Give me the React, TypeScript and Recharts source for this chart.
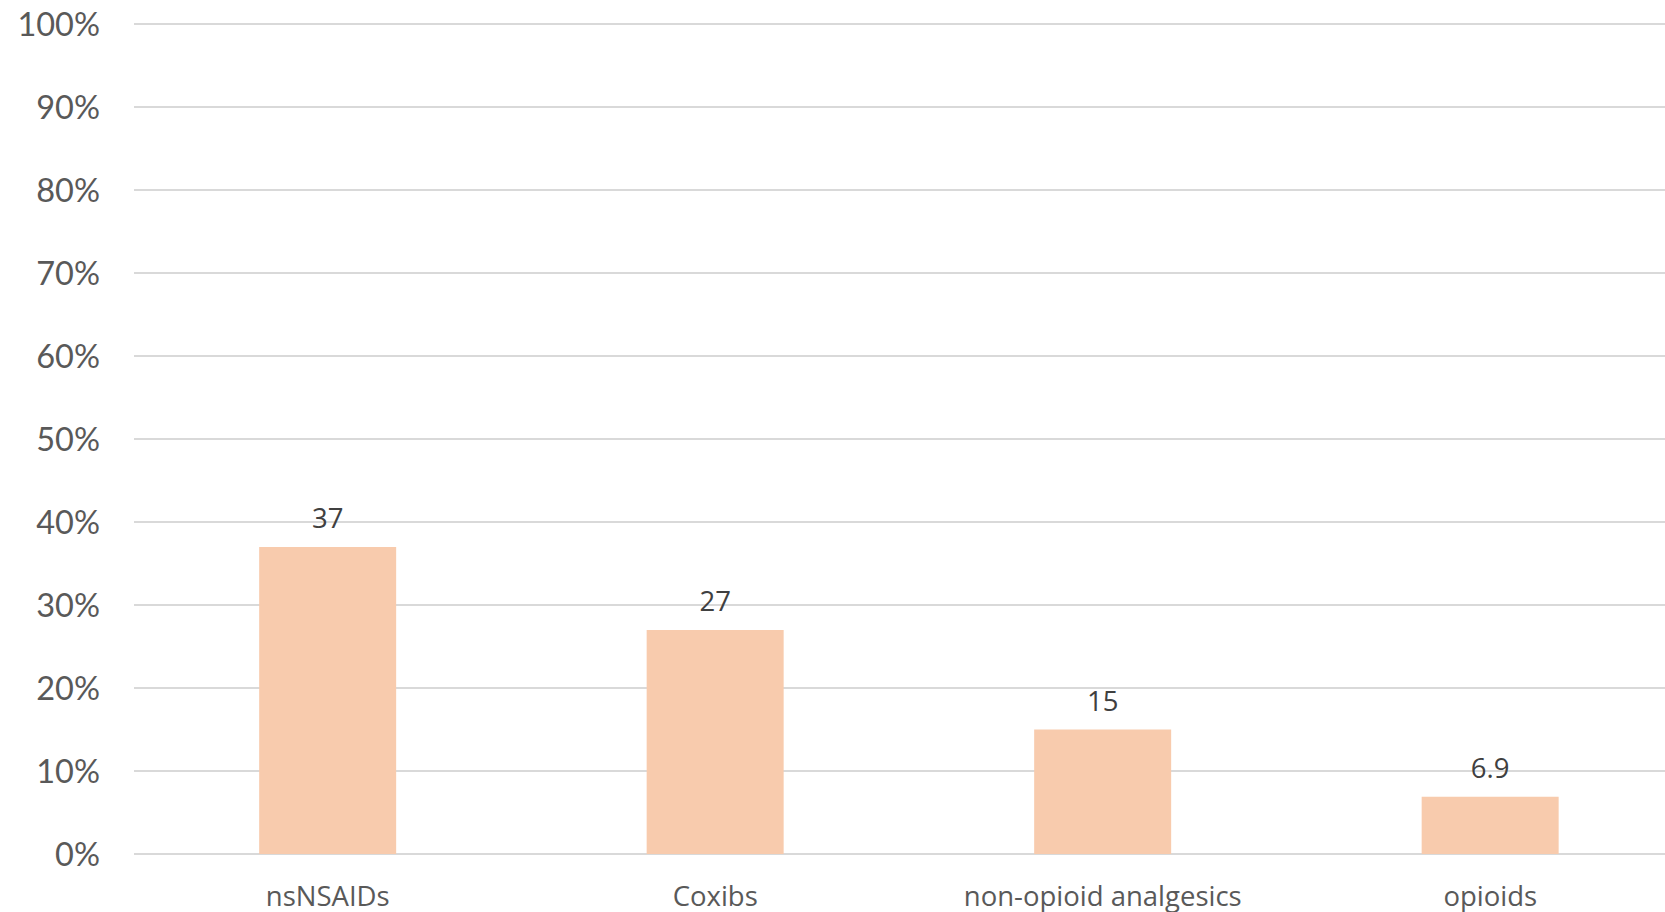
import React from 'react';
import { BarChart, Bar, XAxis, YAxis, CartesianGrid, LabelList } from 'recharts';

const categories = ['nsNSAIDs', 'Coxibs', 'non-opioid analgesics', 'opioids'];
const shares = [37, 27, 15, 6.9];
const yTicks = [0, 10, 20, 30, 40, 50, 60, 70, 80, 90, 100];

const data = categories.map((name, i) => ({ name, value: shares[i] }));

export default function App(): React.JSX.Element {
  return (
    <div style={{ position: 'absolute', left: 0, top: 0, width: 1665, height: 912, overflow: 'hidden', background: '#fff' }}>
      <BarChart
        width={1684}
        height={912}
        data={data}
        margin={{ top: 24, right: 0, left: 0, bottom: 0 }}
        barCategoryGap="32.3%"
      >
        <CartesianGrid vertical={false} stroke="#D9D9D9" strokeWidth={2} />
        <XAxis
          dataKey="name"
          axisLine={false}
          tickLine={false}
          tickSize={0}
          tickMargin={32}
          height={58}
          interval={0}
          tick={{ fill: '#595959', fontSize: 27.5, fontFamily: '"Open Sans", sans-serif' }}
        />
        <YAxis
          domain={[0, 100]}
          ticks={yTicks}
          width={134}
          axisLine={false}
          tickLine={false}
          tickSize={0}
          tickMargin={34}
          tickFormatter={(v) => `${v}%`}
          tick={{ fill: '#595959', fontSize: 32.5, fontFamily: 'Lato, sans-serif' }}
        />
        <Bar dataKey="value" fill="#F8CBAD" isAnimationActive={false}>
          <LabelList
            dataKey="value"
            position="top"
            offset={19}
            fill="#404040"
            fontSize={27.5}
            fontFamily='"Open Sans", sans-serif'
          />
        </Bar>
      </BarChart>
    </div>
  );
}
